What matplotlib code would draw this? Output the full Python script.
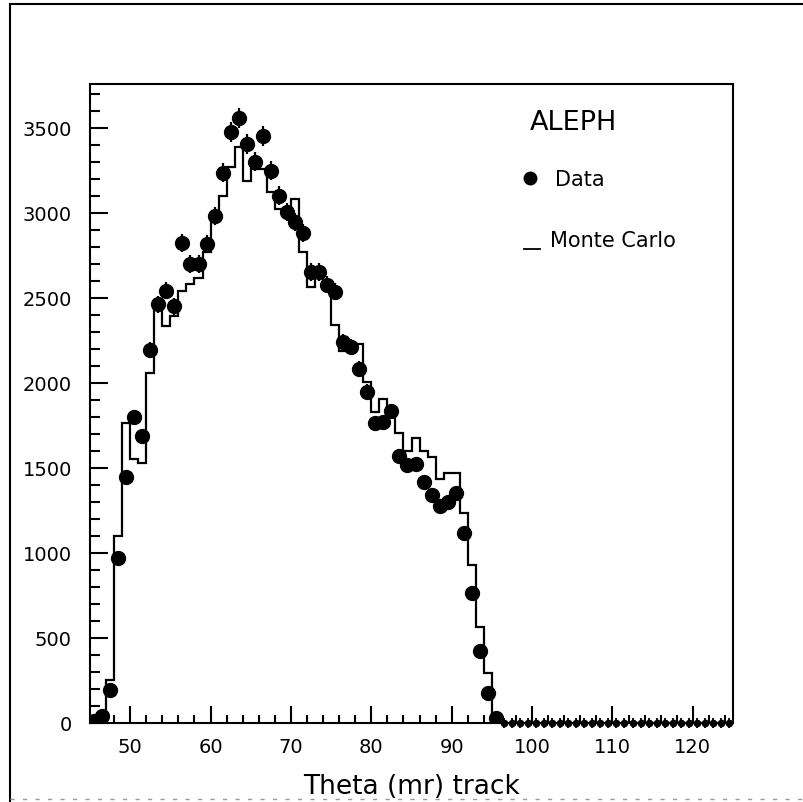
import numpy as np
import matplotlib
matplotlib.use("Agg")
import matplotlib.pyplot as plt
from matplotlib.lines import Line2D

# bin edges: 1 mr bins from 45 to 125
edges = np.arange(45, 126, 1)
centers = edges[:-1] + 0.5

# Data (dots), bins 45..95; above that the bins are empty
data_nonzero = [10, 40, 195, 970, 1447, 1800, 1690, 2194, 2462, 2541,
                2450, 2823, 2700, 2700, 2818, 2982, 3235, 3476, 3559, 3406,
                3300, 3453, 3247, 3100, 3005, 2947, 2882, 2653, 2653, 2576,
                2535, 2241, 2212, 2082, 1947, 1765, 1770, 1835, 1571, 1518,
                1524, 1418, 1341, 1276, 1300, 1353, 1118, 765, 424, 176,
                30]
# Monte Carlo (histogram), bins 45..95
mc_nonzero = [0, 20, 253, 1100, 1765, 1553, 1530, 2059, 2450, 2335,
              2394, 2541, 2582, 2618, 2769, 2960, 3098, 3268, 3388, 3184,
              3255, 3255, 3122, 3024, 3024, 3078, 2769, 2563, 2620, 2580,
              2340, 2190, 2200, 2230, 2004, 1831, 1906, 1825, 1706, 1598,
              1675, 1602, 1566, 1437, 1468, 1468, 1237, 931, 567, 294,
              0]

n_bins = len(centers)
data = np.array(data_nonzero + [0] * (n_bins - len(data_nonzero)), dtype=float)
mc = np.array(mc_nonzero + [0] * (n_bins - len(mc_nonzero)), dtype=float)

fig = plt.figure(figsize=(8.04, 8.03), dpi=100)
W, H = 804, 803
ax = fig.add_axes([90 / W, (H - 724) / H, 643 / W, 639 / H])

# Monte Carlo histogram
ax.stairs(mc, edges, color="black", lw=1.6)

# data points with sqrt(N) errors
filled = data > 0
ax.errorbar(centers[filled], data[filled], yerr=np.sqrt(data[filled]),
            fmt="o", ms=10, color="black", elinewidth=1.6, capsize=0, zorder=3)
# empty bins: small markers sitting on the axis
ax.errorbar(centers[~filled], data[~filled], yerr=28,
            fmt="o", ms=4.5, mfc="black", mec="black",
            color="black", elinewidth=1.3, capsize=0, zorder=3, clip_on=False)

ax.set_xlim(45, 125)
ax.set_ylim(0, 3757)
ax.set_xticks(np.arange(50, 121, 10))
ax.set_xticks(np.arange(46, 125, 2), minor=True)
ax.set_yticks(np.arange(0, 3501, 500))
ax.set_yticks(np.arange(0, 3701, 100), minor=True)
ax.tick_params(which="both", direction="in", top=False, right=False,
               width=1.5, labelsize=14)
ax.tick_params(axis="y", which="major", length=13, pad=13)
ax.tick_params(axis="y", which="minor", length=7)
ax.tick_params(axis="x", which="major", length=12, pad=10)
ax.tick_params(axis="x", which="minor", length=6)
for s in ax.spines.values():
    s.set_linewidth(1.5)

ax.set_xlabel("Theta (mr) track", fontsize=19, labelpad=12)

# legend block
ax.text(0.684, 0.940, "ALEPH", transform=ax.transAxes, fontsize=19.5,
        va="center", ha="left")
ax.plot([0.684], [0.853], "o", ms=9, color="black", transform=ax.transAxes)
ax.text(0.723, 0.851, "Data", transform=ax.transAxes, fontsize=15,
        va="center", ha="left")
ax.plot([0.675, 0.700], [0.742, 0.742], color="black", lw=1.3,
        transform=ax.transAxes)
ax.text(0.715, 0.756, "Monte Carlo", transform=ax.transAxes, fontsize=15,
        va="center", ha="left")

# outer page frame
fig.add_artist(Line2D([10 / W, 10 / W], [0, (H - 5) / H], color="black",
                      lw=1.5, transform=fig.transFigure))
fig.add_artist(Line2D([10 / W, 1], [(H - 5) / H, (H - 5) / H], color="black",
                      lw=1.5, transform=fig.transFigure))
fig.add_artist(Line2D([10 / W, 1], [3 / H, 3 / H], color="0.6",
                      lw=1, ls=(0, (3, 6)), transform=fig.transFigure))

fig.savefig("out.png", dpi=100)
